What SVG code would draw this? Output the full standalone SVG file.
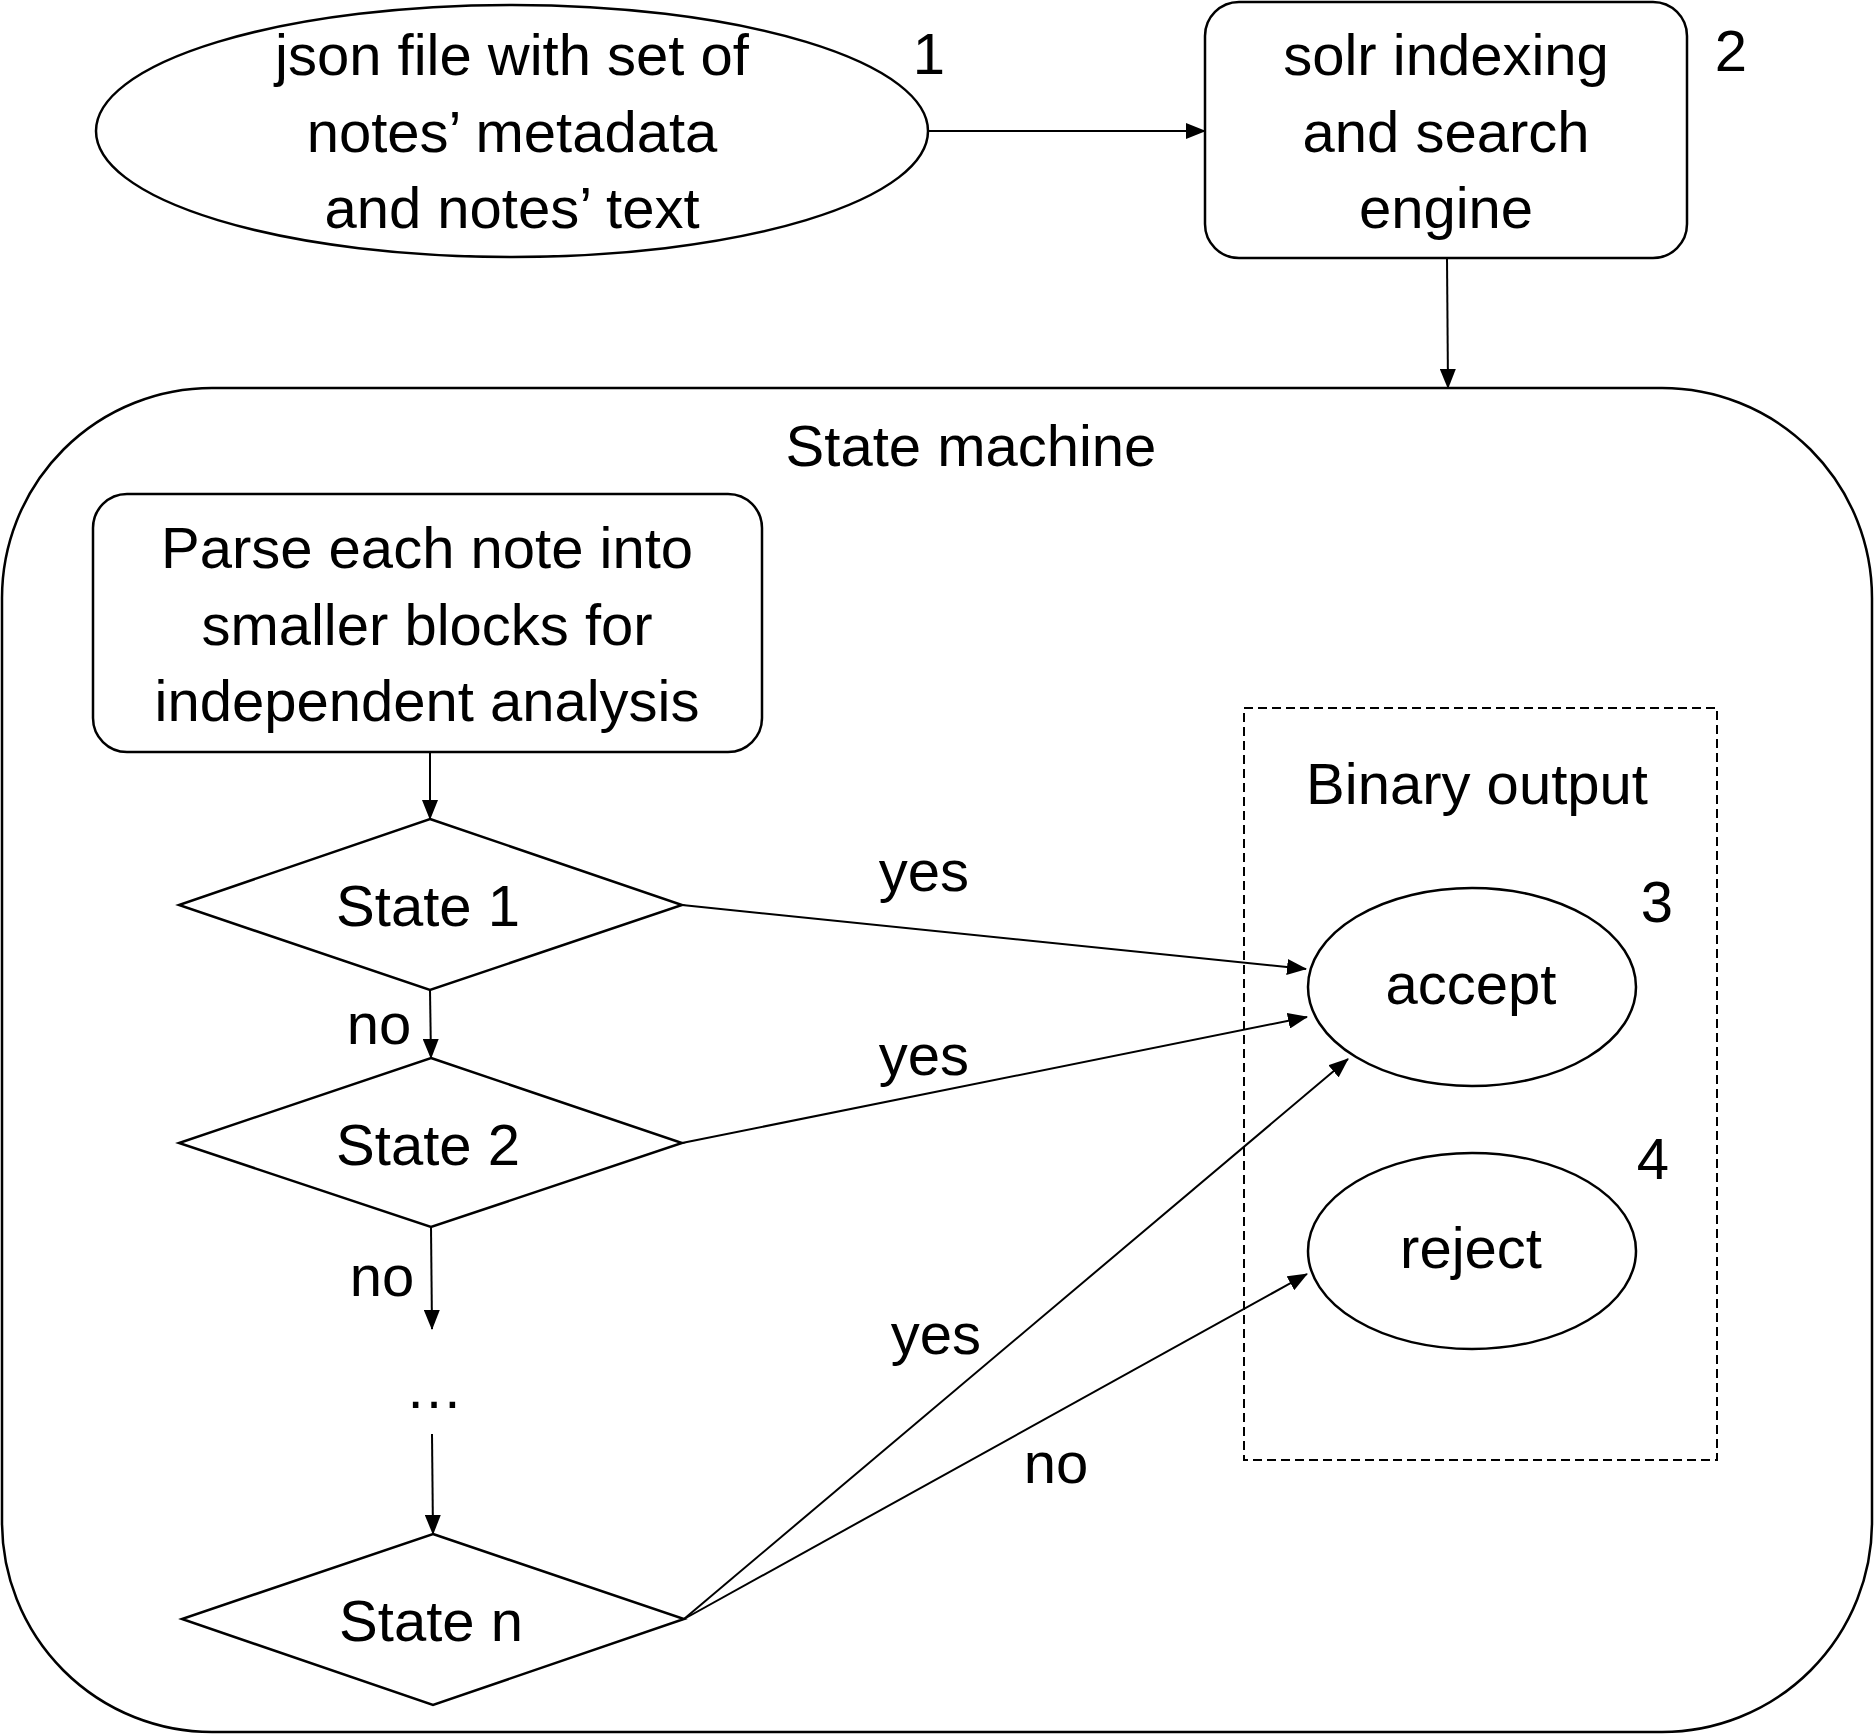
<svg xmlns="http://www.w3.org/2000/svg" width="1875" height="1735" viewBox="0 0 1875 1735">
<style>
.s{fill:#fff;stroke:#000;stroke-width:2.5}
.t{font-family:"Liberation Sans",Arial,sans-serif;font-size:58px;fill:#000;text-anchor:middle}
.c{fill:none;stroke:#000;stroke-width:2}
</style>
<defs>
<marker id="a" markerUnits="userSpaceOnUse" markerWidth="20" markerHeight="16" refX="19" refY="8" orient="auto">
<path d="M0,0 L20,8 L0,16 z" fill="#000"/>
</marker>
</defs>
<rect width="1875" height="1735" fill="#fff"/>
<g id="state-machine">
<rect class="s" x="2" y="388" width="1870" height="1344" rx="210" ry="210"/>
<text class="t" x="971" y="466">State machine</text>
</g>
<g id="binary-output">
<rect x="1244" y="708" width="473" height="752" fill="none" stroke="#000" stroke-width="2" stroke-dasharray="9,5"/>
<text class="t" x="1477" y="804">Binary output</text>
</g>
<g id="json">
<ellipse class="s" cx="512" cy="131" rx="416" ry="126"/>
<text class="t" x="512" y="75">json file with set of</text>
<text class="t" x="512" y="152">notes’ metadata</text>
<text class="t" x="512" y="228">and notes’ text</text>
<text class="t" x="929" y="74">1</text>
</g>
<g id="solr">
<rect class="s" x="1205" y="2" width="482" height="256" rx="34" ry="34"/>
<text class="t" x="1446" y="75">solr indexing</text>
<text class="t" x="1446" y="152">and search</text>
<text class="t" x="1446" y="228">engine</text>
<text class="t" x="1731" y="71">2</text>
</g>
<g id="parse">
<rect class="s" x="93" y="494" width="669" height="258" rx="34" ry="34"/>
<text class="t" x="427" y="568">Parse each note into</text>
<text class="t" x="427" y="645">smaller blocks for</text>
<text class="t" x="427" y="721">independent analysis</text>
</g>
<g id="state1">
<polygon class="s" points="430,819 682,905 430,990 179,905"/>
<text class="t" x="428" y="926">State 1</text>
</g>
<g id="state2">
<polygon class="s" points="431,1058 682,1143 431,1227 179,1143"/>
<text class="t" x="428" y="1165">State 2</text>
</g>
<g id="ellipsis">
<text class="t" x="434" y="1408">…</text>
</g>
<g id="staten">
<polygon class="s" points="433,1534 684,1619 433,1705 182,1619"/>
<text class="t" x="431" y="1641">State n</text>
</g>
<g id="accept">
<ellipse class="s" cx="1472" cy="987" rx="164" ry="99"/>
<text class="t" x="1471" y="1004">accept</text>
<text class="t" x="1657" y="922">3</text>
</g>
<g id="reject">
<ellipse class="s" cx="1472" cy="1251" rx="164" ry="98"/>
<text class="t" x="1471" y="1268">reject</text>
<text class="t" x="1653" y="1179">4</text>
</g>
<g id="connectors">
<line class="c" x1="929" y1="131" x2="1205" y2="131" marker-end="url(#a)"/>
<line class="c" x1="1447" y1="258" x2="1448" y2="388" marker-end="url(#a)"/>
<line class="c" x1="430" y1="752" x2="430" y2="819" marker-end="url(#a)"/>
<line class="c" x1="430" y1="990" x2="431" y2="1058" marker-end="url(#a)"/>
<line class="c" x1="431" y1="1227" x2="432" y2="1329" marker-end="url(#a)"/>
<line class="c" x1="432" y1="1434" x2="433" y2="1534" marker-end="url(#a)"/>
<line class="c" x1="682" y1="905" x2="1306" y2="969" marker-end="url(#a)"/>
<line class="c" x1="682" y1="1143" x2="1307" y2="1017" marker-end="url(#a)"/>
<line class="c" x1="684" y1="1619" x2="1348" y2="1059" marker-end="url(#a)"/>
<line class="c" x1="684" y1="1619" x2="1307" y2="1274" marker-end="url(#a)"/>
<text class="t" x="924" y="891">yes</text>
<text class="t" x="379" y="1044">no</text>
<text class="t" x="924" y="1075">yes</text>
<text class="t" x="382" y="1296">no</text>
<text class="t" x="936" y="1354">yes</text>
<text class="t" x="1056" y="1483">no</text>
</g>
</svg>
